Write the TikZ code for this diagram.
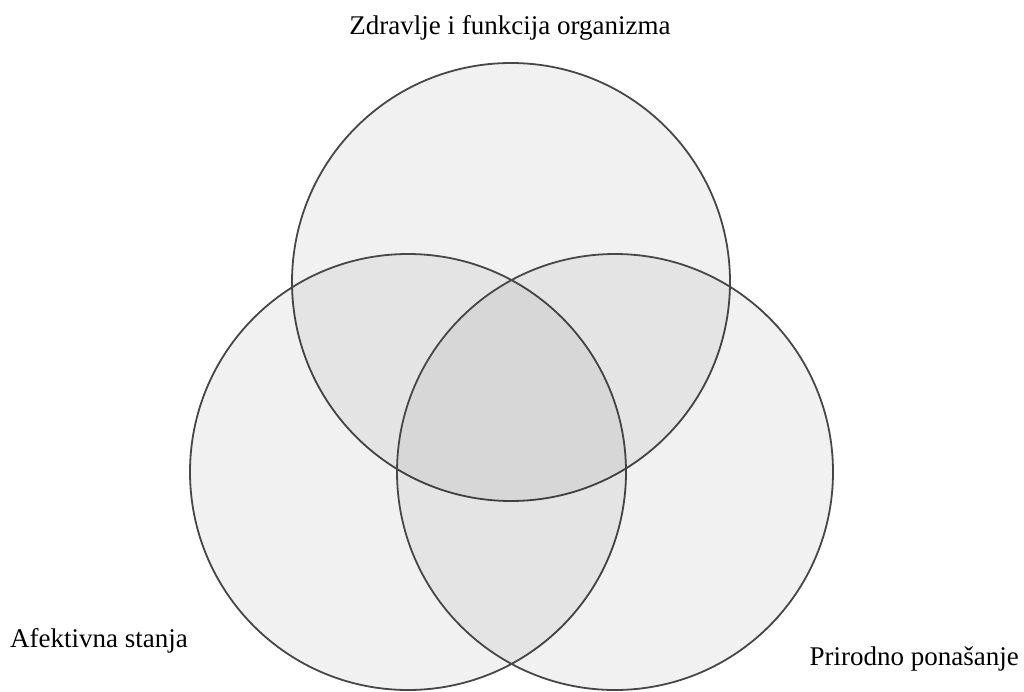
\documentclass[tikz,border=0pt]{standalone}
\usepackage{fontspec}
\setmainfont{Liberation Serif}
\usetikzlibrary{positioning}
\definecolor{rim}{HTML}{474747}
\tikzset{
  set/.style   = {circle, draw=rim, line width=1.8pt, fill=black, fill opacity=0.055,
                  inner sep=0pt},
  label/.style = {font=\fontsize{27}{32}\selectfont, text=black, inner sep=0pt},
}
\begin{document}
\begin{tikzpicture}[x=1pt,y=-1pt]
  \useasboundingbox (0,0) rectangle (1024,692);
  % three sets
  \node[set,minimum size=438pt] (health) at (511,282) {};
  \node[set,minimum size=436pt] (affect) at (408,472) {};
  \node[set,minimum size=436pt] (nature) at (615,472) {};
  % labels
  \node[label] (healthlbl) at (510,28) {Zdravlje i funkcija organizma};
  \node[label,anchor=base west] (affectlbl) at (10,647) {Afektivna stanja};
  \node[label,anchor=base east] (naturelbl) at (1019,665) {Prirodno ponašanje};
\end{tikzpicture}
\end{document}
